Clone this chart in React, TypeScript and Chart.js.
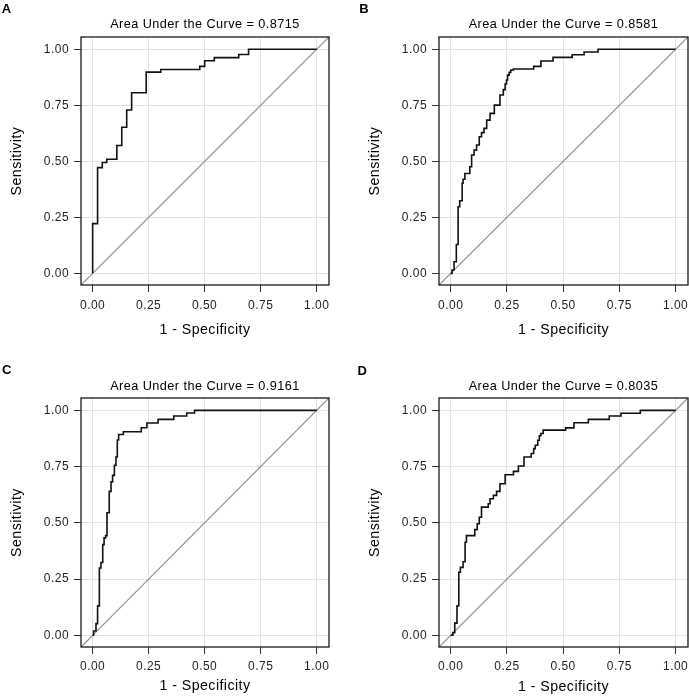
import React, { useEffect, useRef } from 'react';
import { Chart, registerables } from 'chart.js';

Chart.register(...registerables);

// ---------------- data ----------------
const panelLetters = ['A', 'B', 'C', 'D'];
const aucValues = ['0.8715', '0.8581', '0.9161', '0.8035'];
const tickValues = [0, 0.25, 0.5, 0.75, 1];
const xAxisTitle = '1 - Specificity';
const yAxisTitle = 'Sensitivity';

// ROC vertices: each point is the top of a vertical rise (step drawn "before")
const fprA = [0, 0, 0.022, 0.043, 0.063, 0.108, 0.130, 0.152, 0.174, 0.239, 0.304, 0.478, 0.500, 0.543, 0.652, 0.696, 1.0];
const tprA = [0, 0.222, 0.472, 0.495, 0.509, 0.571, 0.652, 0.729, 0.806, 0.898, 0.910, 0.924, 0.949, 0.963, 0.977, 1.0, 1.0];

const fprB = [0, 0.006, 0.015, 0.025, 0.033, 0.040, 0.051, 0.055, 0.063, 0.085, 0.093, 0.104, 0.115, 0.127, 0.137, 0.148, 0.160, 0.175, 0.194, 0.219, 0.234, 0.242, 0.248, 0.253, 0.260, 0.267, 0.279, 0.369, 0.401, 0.455, 0.540, 0.593, 0.655, 1.0];
const tprB = [0, 0.015, 0.052, 0.129, 0.297, 0.324, 0.402, 0.420, 0.446, 0.476, 0.528, 0.550, 0.573, 0.610, 0.628, 0.647, 0.684, 0.714, 0.751, 0.796, 0.820, 0.845, 0.863, 0.885, 0.897, 0.908, 0.912, 0.924, 0.948, 0.964, 0.976, 0.988, 1.0, 1.0];

const fprC = [0, 0.004, 0.015, 0.022, 0.030, 0.037, 0.045, 0.051, 0.058, 0.064, 0.074, 0.082, 0.089, 0.097, 0.104, 0.110, 0.116, 0.137, 0.217, 0.242, 0.292, 0.362, 0.420, 0.455, 1.0];
const tprC = [0, 0.019, 0.052, 0.131, 0.299, 0.324, 0.403, 0.433, 0.443, 0.545, 0.640, 0.682, 0.711, 0.756, 0.793, 0.868, 0.893, 0.905, 0.923, 0.944, 0.960, 0.975, 0.988, 1.0, 1.0];

const fprD = [0, 0.010, 0.018, 0.028, 0.036, 0.043, 0.055, 0.064, 0.070, 0.107, 0.118, 0.127, 0.137, 0.167, 0.175, 0.190, 0.204, 0.219, 0.242, 0.279, 0.301, 0.326, 0.358, 0.369, 0.376, 0.387, 0.394, 0.401, 0.411, 0.511, 0.548, 0.612, 0.705, 0.757, 0.843, 1.0];
const tprD = [0, 0.012, 0.054, 0.131, 0.280, 0.302, 0.327, 0.414, 0.443, 0.470, 0.496, 0.525, 0.570, 0.585, 0.607, 0.622, 0.640, 0.674, 0.714, 0.729, 0.753, 0.793, 0.808, 0.830, 0.845, 0.867, 0.887, 0.897, 0.912, 0.922, 0.945, 0.960, 0.975, 0.987, 1.0, 1.0];

const fprSeries = [fprA, fprB, fprC, fprD];
const tprSeries = [tprA, tprB, tprC, tprD];

// axis range (ggplot-like expansion)
const AXIS_MIN = -0.052;
const AXIS_MAX = 1.055;

// ---------------- layout / style ----------------
const FONT = '"Liberation Sans", Arial, Helvetica, sans-serif';
const TICK_SIZE = 12;
const TITLE_SIZE = 12.7;
const AXIS_TITLE_SIZE = 14.2;
const TICK_LEN = 7;
const LETTER_SPACING = '0.45px';

type Geom = {
  left: number; top: number; w: number; h: number;
  l: number; r: number; t: number; b: number;
  titleGap: number; xTitleGap: number; xTickGap: number; yTitleX: number;
  letterX: number; letterY: number;
};

const geoms: Geom[] = [
  { left: 0, top: 0, w: 344, h: 350, l: 81, r: 329, t: 37, b: 285, titleGap: 12.8, xTitleGap: 44.7, xTickGap: 20.8, yTitleX: 17, letterX: 1.7, letterY: 12.7 },
  { left: 344, top: 0, w: 345, h: 350, l: 95, r: 344, t: 37, b: 285, titleGap: 12.8, xTitleGap: 44.7, xTickGap: 20.8, yTitleX: 31, letterX: 15.2, letterY: 12.7 },
  { left: 0, top: 350, w: 344, h: 350, l: 81, r: 329, t: 48, b: 297, titleGap: 11.7, xTitleGap: 39.5, xTickGap: 19.8, yTitleX: 17, letterX: 2.1, letterY: 23.5 },
  { left: 344, top: 350, w: 345, h: 350, l: 95, r: 344, t: 48, b: 297, titleGap: 11.7, xTitleGap: 40.5, xTickGap: 19.8, yTitleX: 31, letterX: 13.6, letterY: 24.5 },
];

function Panel({ idx }: { idx: number }) {
  const ref = useRef<HTMLCanvasElement | null>(null);
  const g = geoms[idx];

  useEffect(() => {
    if (!ref.current) return;
    const fpr = fprSeries[idx];
    const tpr = tprSeries[idx];
    const titleLH = TITLE_SIZE * 1.2;
    const tickLH = TICK_SIZE * 1.2;
    const axisLH = AXIS_TITLE_SIZE * 1.2;
    const titleTop = g.t - g.titleGap - titleLH / 2;
    const letter = panelLetters[idx];

    const framePlugin = {
      id: 'frame' + idx,
      beforeDraw(chart: any) {
        (chart.ctx as any).letterSpacing = LETTER_SPACING;
      },
      afterDraw(chart: any) {
        const { ctx, chartArea: a } = chart;
        ctx.save();
        (ctx as any).letterSpacing = '0px';
        ctx.strokeStyle = '#1a1a1a';
        ctx.lineWidth = 1.3;
        ctx.strokeRect(a.left, a.top, a.right - a.left, a.bottom - a.top);
        ctx.fillStyle = '#000';
        ctx.font = `bold 13px ${FONT}`;
        ctx.textAlign = 'left';
        ctx.textBaseline = 'alphabetic';
        ctx.fillText(letter, g.letterX, g.letterY);
        ctx.restore();
      },
    };

    const fixTicks = (s: any) => {
      s.ticks = tickValues.map((v) => ({ value: v }));
    };

    const chart = new Chart(ref.current, {
      type: 'line',
      data: {
        datasets: [
          {
            data: fpr.map((x, i) => ({ x, y: tpr[i] })),
            borderColor: '#111111',
            borderWidth: 1.6,
            pointRadius: 0,
            stepped: 'before',
            fill: false,
            order: 0,
          },
          {
            data: [
              { x: AXIS_MIN, y: AXIS_MIN },
              { x: AXIS_MAX, y: AXIS_MAX },
            ],
            borderColor: '#8c8c8c',
            borderWidth: 1.2,
            pointRadius: 0,
            fill: false,
            order: 1,
          },
        ],
      },
      options: {
        responsive: false,
        animation: false,
        events: [],
        layout: { padding: { left: 0, top: titleTop, right: g.w - g.r, bottom: 0 } },
        plugins: {
          legend: { display: false },
          tooltip: { enabled: false },
          title: {
            display: true,
            text: 'Area Under the Curve = ' + aucValues[idx],
            fullSize: false,
            align: 'center',
            color: '#000',
            font: { family: FONT, size: TITLE_SIZE, weight: 'normal' },
            padding: { top: 0, bottom: g.t - titleTop - titleLH },
          },
        },
        scales: {
          x: {
            type: 'linear',
            position: 'bottom',
            min: AXIS_MIN,
            max: AXIS_MAX,
            afterBuildTicks: fixTicks,
            afterFit: (s: any) => {
              s.height = g.h - g.b;
              s.paddingLeft = 0; s.paddingRight = 0; s.paddingTop = 0; s.paddingBottom = 0;
            },
            grid: { color: '#e3e3e3', lineWidth: 1, drawTicks: true, tickLength: TICK_LEN, tickColor: '#333', tickWidth: 1 },
            border: { display: false },
            ticks: {
              autoSkip: false,
              maxRotation: 0,
              minRotation: 0,
              color: '#1f1f1f',
              font: { family: FONT, size: TICK_SIZE },
              padding: g.xTickGap - TICK_LEN - tickLH / 2,
              callback: (v: any) => Number(v).toFixed(2),
            },
            title: {
              display: true,
              text: xAxisTitle,
              color: '#000',
              font: { family: FONT, size: AXIS_TITLE_SIZE },
              padding: { top: 0, bottom: g.h - g.b - g.xTitleGap - axisLH / 2 },
            },
          },
          y: {
            type: 'linear',
            position: 'left',
            min: AXIS_MIN,
            max: AXIS_MAX,
            afterBuildTicks: fixTicks,
            afterFit: (s: any) => {
              s.width = g.l;
              s.paddingLeft = 0; s.paddingRight = 0; s.paddingTop = 0; s.paddingBottom = 0;
            },
            grid: { color: '#e3e3e3', lineWidth: 1, drawTicks: true, tickLength: TICK_LEN, tickColor: '#333', tickWidth: 1 },
            border: { display: false },
            ticks: {
              autoSkip: false,
              color: '#1f1f1f',
              font: { family: FONT, size: TICK_SIZE },
              padding: 5,
              callback: (v: any) => Number(v).toFixed(2),
            },
            title: {
              display: true,
              text: yAxisTitle,
              color: '#000',
              font: { family: FONT, size: AXIS_TITLE_SIZE },
              padding: { top: g.yTitleX - axisLH / 2, bottom: 0 },
            },
          },
        },
      },
      plugins: [framePlugin],
    } as any);

    return () => chart.destroy();
  }, [idx]);

  return (
    <canvas
      ref={ref}
      width={g.w}
      height={g.h}
      style={{ position: 'absolute', left: g.left, top: g.top, width: g.w, height: g.h }}
    />
  );
}

export default function App() {
  return (
    <div
      style={{
        position: 'absolute',
        left: 0,
        top: 0,
        width: 689,
        height: 700,
        overflow: 'hidden',
        background: '#fff',
      }}
    >
      {[0, 1, 2, 3].map((i) => (
        <Panel key={i} idx={i} />
      ))}
    </div>
  );
}
